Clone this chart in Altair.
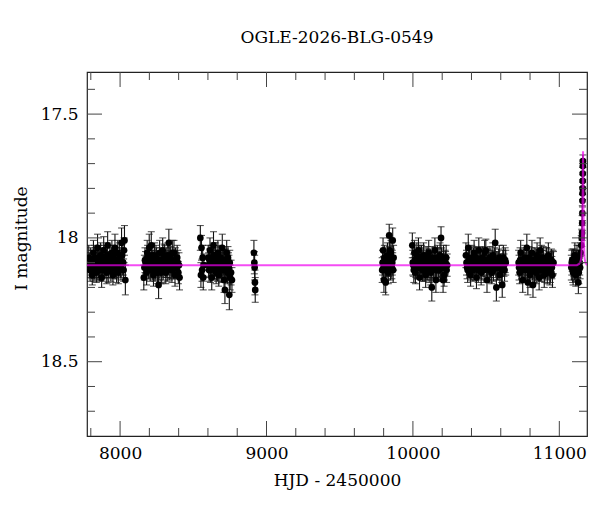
import altair as alt
import pandas as pd

TITLE = "OGLE-2026-BLG-0549"
FONT = "DejaVu Serif"

# (HJD - 2450000, I magnitude, error) for each observing season
season_2017 = [
    (7786, 18.08, 0.05), (7795, 18.13, 0.045), (7803, 18.10, 0.05), (7810, 18.15, 0.04),
    (7818, 18.06, 0.05), (7825, 18.12, 0.045), (7831, 18.09, 0.05), (7838, 18.14, 0.04),
    (7846, 18.04, 0.055), (7852, 18.11, 0.05), (7860, 18.13, 0.045), (7867, 18.07, 0.05),
    (7874, 18.16, 0.04), (7880, 18.10, 0.05), (7888, 18.05, 0.055), (7895, 18.12, 0.045),
    (7902, 18.09, 0.05), (7909, 18.14, 0.045), (7915, 18.03, 0.055), (7922, 18.11, 0.05),
    (7930, 18.08, 0.05), (7937, 18.13, 0.045), (7944, 18.06, 0.05), (7951, 18.15, 0.04),
    (7958, 18.10, 0.05), (7965, 18.04, 0.055), (7972, 18.12, 0.045), (7980, 18.09, 0.05),
    (7988, 18.14, 0.045), (7995, 18.07, 0.05), (8003, 18.11, 0.05), (8010, 18.02, 0.06),
    (8018, 18.10, 0.05), (8024, 18.13, 0.045), (8030, 18.01, 0.06), (8036, 18.17, 0.06),
    (7790, 18.11, 0.05), (7799, 18.09, 0.05), (7807, 18.12, 0.045), (7814, 18.10, 0.05),
    (7821, 18.13, 0.045), (7828, 18.08, 0.05), (7835, 18.11, 0.05), (7842, 18.10, 0.045),
    (7849, 18.12, 0.05), (7856, 18.08, 0.05), (7863, 18.10, 0.045), (7870, 18.12, 0.05),
    (7877, 18.09, 0.05), (7884, 18.13, 0.045), (7891, 18.08, 0.05), (7898, 18.11, 0.05),
    (7905, 18.10, 0.045), (7912, 18.07, 0.05), (7919, 18.13, 0.05), (7926, 18.10, 0.045),
    (7933, 18.11, 0.05), (7940, 18.09, 0.05), (7947, 18.12, 0.045), (7954, 18.08, 0.05),
    (7961, 18.11, 0.05), (7968, 18.10, 0.045), (7976, 18.13, 0.05), (7984, 18.06, 0.05),
    (7991, 18.11, 0.045), (7999, 18.09, 0.05), (8006, 18.12, 0.05), (8014, 18.07, 0.045),
    (8021, 18.10, 0.05), (8027, 18.05, 0.05),
]
season_2018 = [
    (8162, 18.16, 0.05), (8170, 18.09, 0.05), (8178, 18.12, 0.045), (8185, 18.06, 0.05),
    (8192, 18.11, 0.045), (8199, 18.04, 0.055), (8206, 18.13, 0.045), (8213, 18.03, 0.055),
    (8220, 18.10, 0.05), (8228, 18.15, 0.045), (8235, 18.07, 0.05), (8242, 18.12, 0.045),
    (8249, 18.09, 0.05), (8256, 18.14, 0.045), (8263, 18.19, 0.055), (8270, 18.06, 0.05),
    (8277, 18.11, 0.045), (8284, 18.13, 0.05), (8291, 18.05, 0.05), (8298, 18.10, 0.045),
    (8305, 18.08, 0.05), (8312, 18.14, 0.045), (8319, 18.11, 0.05), (8326, 18.07, 0.05),
    (8333, 18.02, 0.055), (8340, 18.09, 0.05), (8347, 18.12, 0.045), (8354, 18.13, 0.05),
    (8361, 18.10, 0.045), (8368, 18.06, 0.05), (8375, 18.15, 0.045), (8382, 18.11, 0.05),
    (8390, 18.08, 0.05), (8398, 18.14, 0.045), (8406, 18.16, 0.05),
    (8166, 18.12, 0.05), (8174, 18.10, 0.045), (8181, 18.14, 0.05), (8188, 18.08, 0.05),
    (8196, 18.12, 0.045), (8203, 18.09, 0.05), (8210, 18.11, 0.05), (8217, 18.07, 0.045),
    (8224, 18.12, 0.05), (8231, 18.10, 0.05), (8238, 18.13, 0.045), (8245, 18.08, 0.05),
    (8252, 18.11, 0.05), (8259, 18.10, 0.045), (8266, 18.12, 0.05), (8273, 18.09, 0.05),
    (8280, 18.14, 0.045), (8287, 18.10, 0.05), (8294, 18.12, 0.05), (8301, 18.07, 0.045),
    (8308, 18.11, 0.05), (8315, 18.09, 0.05), (8322, 18.13, 0.045), (8329, 18.10, 0.05),
    (8336, 18.12, 0.05), (8343, 18.08, 0.045), (8350, 18.11, 0.05), (8357, 18.06, 0.05),
    (8364, 18.12, 0.045), (8371, 18.10, 0.05), (8378, 18.09, 0.05), (8386, 18.12, 0.045),
    (8394, 18.10, 0.05), (8402, 18.11, 0.05),
]
season_2019 = [
    (8548, 18.00, 0.05), (8552, 18.15, 0.05), (8556, 18.04, 0.05), (8560, 18.13, 0.045),
    (8564, 18.08, 0.05), (8568, 18.16, 0.05), (8572, 18.11, 0.045),
    (8602, 18.08, 0.05), (8608, 18.13, 0.045), (8614, 18.05, 0.05), (8620, 18.11, 0.045),
    (8626, 18.16, 0.05), (8632, 18.09, 0.045), (8638, 18.03, 0.055), (8644, 18.12, 0.045),
    (8650, 18.07, 0.05), (8656, 18.14, 0.045), (8662, 18.10, 0.05), (8668, 18.06, 0.05),
    (8674, 18.15, 0.045), (8680, 18.11, 0.05), (8686, 18.08, 0.045), (8692, 18.13, 0.05),
    (8698, 18.04, 0.055), (8704, 18.10, 0.05), (8710, 18.17, 0.05), (8716, 18.21, 0.055),
    (8722, 18.12, 0.045), (8728, 18.06, 0.05), (8734, 18.14, 0.045), (8740, 18.11, 0.05),
    (8746, 18.23, 0.06), (8752, 18.16, 0.05), (8758, 18.14, 0.05), (8764, 18.17, 0.05),
    (8605, 18.11, 0.05), (8611, 18.09, 0.045), (8617, 18.13, 0.05), (8623, 18.08, 0.05),
    (8629, 18.12, 0.045), (8635, 18.10, 0.05), (8641, 18.07, 0.05), (8647, 18.11, 0.045),
    (8653, 18.09, 0.05), (8659, 18.12, 0.05), (8665, 18.13, 0.045), (8671, 18.10, 0.05),
    (8677, 18.08, 0.05), (8683, 18.12, 0.045), (8689, 18.11, 0.05), (8695, 18.09, 0.05),
    (8701, 18.13, 0.045), (8707, 18.10, 0.05), (8713, 18.12, 0.05), (8719, 18.09, 0.045),
    (8725, 18.11, 0.05), (8731, 18.13, 0.05), (8737, 18.08, 0.045), (8743, 18.12, 0.05),
    (8749, 18.10, 0.05),
    (8914, 18.06, 0.05), (8917, 18.10, 0.045), (8919, 18.12, 0.05), (8921, 18.18, 0.05),
    (8923, 18.21, 0.05),
]
season_2022 = [
    (9790, 18.13, 0.05), (9796, 18.05, 0.05), (9802, 18.17, 0.05), (9808, 18.09, 0.045),
    (9814, 18.18, 0.05), (9820, 18.11, 0.045), (9826, 18.07, 0.05), (9832, 18.14, 0.045),
    (9838, 17.99, 0.045), (9844, 18.10, 0.05), (9850, 18.06, 0.05), (9856, 18.12, 0.045),
    (9862, 18.01, 0.05), (9868, 18.08, 0.05),
    (9793, 18.10, 0.05), (9799, 18.12, 0.045), (9805, 18.08, 0.05), (9811, 18.13, 0.05),
    (9817, 18.10, 0.045), (9823, 18.12, 0.05), (9829, 18.09, 0.05), (9835, 18.11, 0.045),
    (9841, 18.05, 0.05), (9847, 18.12, 0.05), (9853, 18.09, 0.045), (9859, 18.10, 0.05),
    (9865, 18.13, 0.05),
]
season_2023 = [
    (9996, 18.03, 0.05), (10003, 18.11, 0.045), (10010, 18.06, 0.05), (10017, 18.14, 0.045),
    (10024, 18.09, 0.05), (10031, 18.12, 0.045), (10038, 18.05, 0.05), (10045, 18.16, 0.05),
    (10052, 18.10, 0.045), (10059, 18.08, 0.05), (10066, 18.13, 0.045), (10073, 18.07, 0.05),
    (10080, 18.11, 0.045), (10087, 18.15, 0.05), (10094, 18.09, 0.045), (10101, 18.12, 0.05),
    (10108, 18.06, 0.05), (10115, 18.10, 0.045), (10122, 18.14, 0.05), (10129, 18.20, 0.055),
    (10136, 18.08, 0.045), (10143, 18.12, 0.05), (10150, 18.05, 0.05), (10157, 18.17, 0.05),
    (10164, 18.11, 0.045), (10171, 18.09, 0.05), (10178, 18.13, 0.045), (10185, 18.07, 0.05),
    (10192, 18.00, 0.045), (10199, 18.12, 0.05), (10206, 18.17, 0.05), (10213, 18.15, 0.045),
    (10220, 18.10, 0.05), (10227, 18.08, 0.05), (10234, 18.11, 0.045),
    (9999, 18.10, 0.05), (10006, 18.13, 0.05), (10013, 18.09, 0.045), (10020, 18.11, 0.05),
    (10027, 18.07, 0.05), (10034, 18.12, 0.045), (10041, 18.10, 0.05), (10048, 18.08, 0.05),
    (10055, 18.12, 0.045), (10062, 18.11, 0.05), (10069, 18.09, 0.05), (10076, 18.13, 0.045),
    (10083, 18.10, 0.05), (10090, 18.12, 0.05), (10097, 18.08, 0.045), (10104, 18.11, 0.05),
    (10111, 18.13, 0.05), (10118, 18.09, 0.045), (10125, 18.11, 0.05), (10132, 18.10, 0.05),
    (10139, 18.12, 0.045), (10146, 18.09, 0.05), (10153, 18.11, 0.05), (10160, 18.13, 0.045),
    (10167, 18.08, 0.05), (10174, 18.11, 0.05), (10181, 18.10, 0.045), (10188, 18.12, 0.05),
    (10195, 18.09, 0.05), (10202, 18.11, 0.045), (10209, 18.08, 0.05), (10216, 18.12, 0.05),
    (10223, 18.10, 0.045), (10230, 18.13, 0.05),
]
season_2024 = [
    (10362, 18.07, 0.05), (10370, 18.12, 0.045), (10378, 18.04, 0.055), (10386, 18.10, 0.05),
    (10394, 18.15, 0.045), (10402, 18.08, 0.05), (10410, 18.13, 0.045), (10418, 18.06, 0.05),
    (10426, 18.11, 0.05), (10434, 18.16, 0.045), (10442, 18.09, 0.05), (10450, 18.05, 0.05),
    (10458, 18.12, 0.045), (10466, 18.14, 0.05), (10474, 18.08, 0.045), (10482, 18.10, 0.05),
    (10490, 18.06, 0.05), (10498, 18.05, 0.045), (10506, 18.17, 0.05), (10514, 18.09, 0.045),
    (10522, 18.13, 0.05), (10530, 18.11, 0.05), (10538, 18.14, 0.045), (10546, 18.07, 0.05),
    (10554, 18.10, 0.045), (10562, 18.02, 0.055), (10570, 18.20, 0.055), (10578, 18.12, 0.05),
    (10586, 18.09, 0.045), (10594, 18.15, 0.05), (10602, 18.11, 0.045), (10610, 18.19, 0.05),
    (10618, 18.08, 0.05), (10626, 18.13, 0.045), (10634, 18.10, 0.05),
    (10366, 18.10, 0.05), (10374, 18.13, 0.05), (10382, 18.09, 0.045), (10390, 18.11, 0.05),
    (10398, 18.12, 0.05), (10406, 18.10, 0.045), (10414, 18.09, 0.05), (10422, 18.12, 0.05),
    (10430, 18.08, 0.045), (10438, 18.11, 0.05), (10446, 18.13, 0.05), (10454, 18.10, 0.045),
    (10462, 18.09, 0.05), (10470, 18.12, 0.05), (10478, 18.11, 0.045), (10486, 18.13, 0.05),
    (10494, 18.09, 0.05), (10502, 18.11, 0.045), (10510, 18.12, 0.05), (10518, 18.10, 0.05),
    (10526, 18.08, 0.045), (10534, 18.12, 0.05), (10542, 18.10, 0.05), (10550, 18.13, 0.045),
    (10558, 18.09, 0.05), (10566, 18.11, 0.05), (10574, 18.10, 0.045), (10582, 18.12, 0.05),
    (10590, 18.08, 0.05), (10598, 18.11, 0.045), (10606, 18.13, 0.05), (10614, 18.10, 0.05),
    (10622, 18.11, 0.045), (10630, 18.09, 0.05),
]
season_2025 = [
    (10722, 18.10, 0.05), (10729, 18.14, 0.045), (10736, 18.06, 0.05), (10743, 18.12, 0.045),
    (10750, 18.17, 0.05), (10757, 18.09, 0.045), (10764, 18.08, 0.05), (10771, 18.13, 0.045),
    (10778, 18.04, 0.055), (10785, 18.18, 0.05), (10792, 18.08, 0.045), (10799, 18.15, 0.05),
    (10806, 18.10, 0.045), (10813, 18.06, 0.05), (10820, 18.19, 0.05), (10827, 18.12, 0.045),
    (10834, 18.09, 0.05), (10841, 18.14, 0.045), (10848, 18.07, 0.05), (10855, 18.11, 0.045),
    (10862, 18.16, 0.05), (10869, 18.05, 0.05), (10876, 18.13, 0.045), (10883, 18.10, 0.05),
    (10890, 18.08, 0.045), (10897, 18.15, 0.05), (10904, 18.12, 0.045), (10911, 18.09, 0.05),
    (10918, 18.14, 0.045), (10925, 18.07, 0.05), (10932, 18.11, 0.045), (10939, 18.13, 0.05),
    (10946, 18.09, 0.045), (10953, 18.15, 0.05), (10960, 18.10, 0.045),
    (10725, 18.12, 0.05), (10732, 18.09, 0.05), (10739, 18.11, 0.045), (10746, 18.13, 0.05),
    (10753, 18.10, 0.05), (10760, 18.12, 0.045), (10767, 18.11, 0.05), (10774, 18.09, 0.05),
    (10781, 18.12, 0.045), (10788, 18.10, 0.05), (10795, 18.13, 0.05), (10802, 18.11, 0.045),
    (10809, 18.09, 0.05), (10816, 18.12, 0.05), (10823, 18.10, 0.045), (10830, 18.13, 0.05),
    (10837, 18.11, 0.05), (10844, 18.09, 0.045), (10851, 18.12, 0.05), (10858, 18.10, 0.05),
    (10865, 18.13, 0.045), (10872, 18.11, 0.05), (10879, 18.08, 0.05), (10886, 18.12, 0.045),
    (10893, 18.10, 0.05), (10900, 18.13, 0.05), (10907, 18.11, 0.045), (10914, 18.09, 0.05),
    (10921, 18.12, 0.05), (10928, 18.10, 0.045), (10935, 18.14, 0.05), (10942, 18.11, 0.05),
    (10949, 18.12, 0.045), (10956, 18.10, 0.05),
]
season_2026 = [
    (11082, 18.12, 0.05), (11088, 18.09, 0.045), (11094, 18.14, 0.05), (11100, 18.11, 0.045),
    (11106, 18.07, 0.05), (11112, 18.15, 0.045), (11118, 18.10, 0.05), (11124, 18.13, 0.045),
    (11130, 18.18, 0.045), (11136, 18.08, 0.05), (11142, 18.12, 0.045), (11146, 18.06, 0.04),
    (11150, 18.03, 0.04), (11153, 18.00, 0.035),
    (11085, 18.10, 0.05), (11091, 18.13, 0.05), (11097, 18.09, 0.045), (11103, 18.12, 0.05),
    (11109, 18.10, 0.05), (11115, 18.13, 0.045), (11121, 18.08, 0.05), (11127, 18.11, 0.05),
    (11133, 18.14, 0.045), (11139, 18.10, 0.05),
    (11155, 17.98, 0.03), (11156, 17.94, 0.03), (11157, 17.90, 0.03), (11158, 17.85, 0.025),
    (11158.5, 17.82, 0.025), (11159, 17.80, 0.025), (11159.5, 17.77, 0.025),
    (11160, 17.74, 0.025), (11160.5, 17.71, 0.025), (11161, 17.69, 0.025),
]

# model light curve
model_hjd = [7774, 11120, 11135, 11145, 11150, 11154, 11157, 11159, 11161, 11162,
             11163, 11165, 11168, 11172, 11178, 11189]
model_mag = [18.11, 18.11, 18.105, 18.095, 18.08, 18.04, 17.96, 17.85, 17.72, 17.65,
             17.70, 17.88, 18.02, 18.08, 18.10, 18.11]

x_major = [8000, 9000, 10000, 11000]
x_minor = [7800, 8200, 8400, 8600, 8800, 9200, 9400, 9600, 9800, 10200, 10400,
           10600, 10800]
y_major = [17.5, 18.0, 18.5]
y_minor = [17.4, 17.6, 17.7, 17.8, 17.9, 18.1, 18.2, 18.3, 18.4, 18.6, 18.7]

W, H = 500, 364
MAJOR, MINOR = 15, 8

rows = []
for season in [season_2017, season_2018, season_2019, season_2022, season_2023,
               season_2024, season_2025, season_2026]:
    rows += season
obs = pd.DataFrame(rows, columns=["hjd", "mag", "err"])
obs["lo"] = obs["mag"] - obs["err"]
obs["hi"] = obs["mag"] + obs["err"]
model = pd.DataFrame({"hjd": model_hjd, "mag": model_mag})

xs = alt.Scale(domain=[7774, 11189], nice=False, zero=False)
ys = alt.Scale(domain=[17.33, 18.8], reverse=True, nice=False, zero=False)

x_axis = alt.Axis(
    values=x_major, format="d", title="HJD - 2450000", ticks=False, domain=False,
    grid=False, labelFont=FONT, labelFontSize=17, labelPadding=9, labelColor="black",
    titleFont=FONT, titleFontSize=17, titleFontWeight="normal", titleColor="black",
    titlePadding=11, labelFlush=False,
)
y_axis = alt.Axis(
    values=y_major, format="~g", title="I magnitude", ticks=False, domain=False,
    grid=False, labelFont=FONT, labelFontSize=17, labelPadding=9, labelColor="black",
    titleFont=FONT, titleFontSize=17, titleFontWeight="normal", titleColor="black",
    titleX=-66, titleY=166, titleAlign="center", titleBaseline="middle",
)

X = lambda f: alt.X(f"{f}:Q", scale=xs, axis=x_axis)
Y = lambda f: alt.Y(f"{f}:Q", scale=ys, axis=y_axis)

base = alt.Chart(obs)
bars = base.mark_rule(color="#111", strokeWidth=1.1, clip=True).encode(
    x=X("hjd"), y=Y("lo"), y2="hi:Q")
cap_lo = base.mark_tick(color="#111", orient="horizontal", size=7, thickness=1.1,
                        clip=True).encode(x=X("hjd"), y=Y("lo"))
cap_hi = base.mark_tick(color="#111", orient="horizontal", size=7, thickness=1.1,
                        clip=True).encode(x=X("hjd"), y=Y("hi"))
dots = base.mark_circle(color="black", size=45, opacity=1, clip=True).encode(
    x=X("hjd"), y=Y("mag"))
line = alt.Chart(model).mark_line(color="#f000f0", strokeWidth=2, opacity=0.7,
                                  clip=True).encode(x=X("hjd"), y=Y("mag"))


def frame_ticks(values, length, side):
    df = pd.DataFrame({"v": values})
    mark = alt.Chart(df).mark_rule(color="#444", strokeWidth=1)
    if side == "bottom":
        return mark.encode(x=X("v"), y=alt.value(H), y2=alt.value(H - length))
    if side == "top":
        return mark.encode(x=X("v"), y=alt.value(0), y2=alt.value(length))
    if side == "left":
        return mark.encode(y=Y("v"), x=alt.value(0), x2=alt.value(length))
    return mark.encode(y=Y("v"), x=alt.value(W), x2=alt.value(W - length))


ticks = []
for side in ["bottom", "top"]:
    ticks.append(frame_ticks(x_major, MAJOR, side))
    ticks.append(frame_ticks(x_minor, MINOR, side))
for side in ["left", "right"]:
    ticks.append(frame_ticks(y_major, MAJOR, side))
    ticks.append(frame_ticks(y_minor, MINOR, side))

chart = alt.layer(bars, cap_lo, cap_hi, dots, line, *ticks).properties(
    width=W, height=H,
    autosize=alt.AutoSizeParams(type="none"),
    padding={"left": 79, "top": 64, "right": 5, "bottom": 60},
    title=alt.TitleParams(TITLE, font=FONT, fontSize=17, fontWeight="normal",
                          color="black", anchor="middle", baseline="bottom", offset=8),
    background="white",
).configure_view(stroke="#222", strokeWidth=1.2)

chart.save("out.html", embed_options={"renderer": "svg", "actions": False})
